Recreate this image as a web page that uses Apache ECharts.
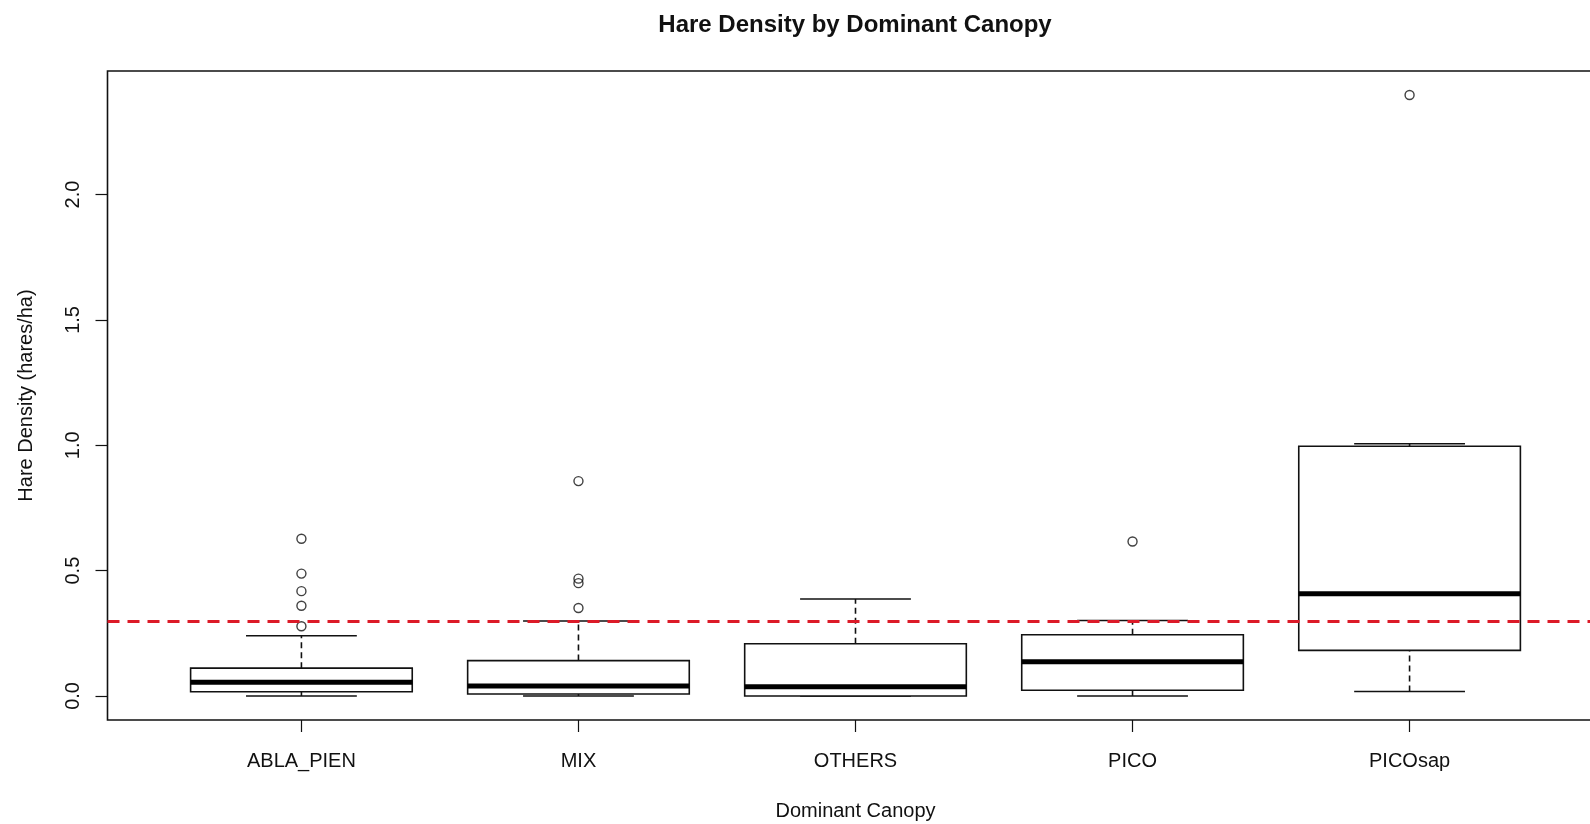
<!DOCTYPE html>
<html>
<head>
<meta charset="utf-8">
<title>Hare Density by Dominant Canopy</title>
<script src="https://cdn.jsdelivr.net/npm/echarts@6/dist/echarts.min.js"></script>
<style>
  html, body { margin: 0; padding: 0; background: #ffffff; overflow: hidden; }
  /* the plot frame runs slightly past the right edge of the window */
  #chart { width: 1604px; height: 824px; }
</style>
</head>
<body>
<div id="chart"></div>
<script>
// Five-number summaries per canopy class (hares/ha)
const categories   = ['ABLA_PIEN', 'MIX', 'OTHERS', 'PICO', 'PICOsap'];
const whiskerLow   = [0.000, 0.000, 0.000, 0.000, 0.018];
const quartile1    = [0.017, 0.008, 0.000, 0.023, 0.182];
const medians      = [0.055, 0.040, 0.037, 0.136, 0.408];
const quartile3    = [0.111, 0.141, 0.208, 0.244, 0.996];
const whiskerHigh  = [0.240, 0.299, 0.387, 0.301, 1.006];
const outliers     = [
  [0.627, 0.488, 0.418, 0.360, 0.278],
  [0.857, 0.468, 0.450, 0.351],
  [],
  [0.616],
  [2.397]
];
const threshold    = 0.3;
const yTicks       = [0, 0.5, 1.0, 1.5, 2.0];

// Base-style plotting conventions: groups sit at 1..n, range padded by 4%
const BOX_WIDTH = 0.8;
const CAP_WIDTH = 0.4;
const xMin = 1 - 0.5 - 0.04 * categories.length;
const xMax = categories.length + 0.5 + 0.04 * categories.length;
const allValues = whiskerLow.concat(whiskerHigh, [].concat(...outliers));
const dataMin = Math.min(...allValues);
const dataMax = Math.max(...allValues);
const pad = 0.04 * (dataMax - dataMin);

const boxData = categories.map((c, i) => [
  i + 1, whiskerLow[i], quartile1[i], medians[i], quartile3[i], whiskerHigh[i]
]);
const outlierData = [];
outliers.forEach((list, i) => list.forEach(v => outlierData.push([i + 1, v])));

const FONT = '"Liberation Sans", Arial, "DejaVu Sans", sans-serif';
const INK = '#111111';
const LW = 1.6;

function renderBox(params, api) {
  const x = api.value(0);
  const lo = api.coord([x, api.value(1)]);
  const b1 = api.coord([x, api.value(2)]);
  const md = api.coord([x, api.value(3)]);
  const b3 = api.coord([x, api.value(4)]);
  const hi = api.coord([x, api.value(5)]);
  const boxW = api.size([BOX_WIDTH, 0])[0];
  const capW = api.size([CAP_WIDTH, 0])[0];
  const cx = lo[0];
  const dashed = { stroke: INK, lineWidth: LW, lineDash: [6, 4], fill: null };
  const solid = { stroke: INK, lineWidth: LW, fill: null };
  return {
    type: 'group',
    children: [
      { type: 'line', shape: { x1: cx, y1: lo[1], x2: cx, y2: b1[1] }, style: dashed },
      { type: 'line', shape: { x1: cx, y1: b3[1], x2: cx, y2: hi[1] }, style: dashed },
      { type: 'line', shape: { x1: cx - capW / 2, y1: lo[1], x2: cx + capW / 2, y2: lo[1] }, style: solid },
      { type: 'line', shape: { x1: cx - capW / 2, y1: hi[1], x2: cx + capW / 2, y2: hi[1] }, style: solid },
      {
        type: 'rect',
        shape: { x: cx - boxW / 2, y: b3[1], width: boxW, height: b1[1] - b3[1] },
        style: { fill: '#ffffff', stroke: INK, lineWidth: LW }
      },
      {
        type: 'line',
        shape: { x1: cx - boxW / 2, y1: md[1], x2: cx + boxW / 2, y2: md[1] },
        style: { stroke: '#000000', lineWidth: 5 }
      }
    ]
  };
}

const chart = echarts.init(document.getElementById('chart'), null, { renderer: 'canvas' });
chart.setOption({
  backgroundColor: '#ffffff',
  animation: false,
  title: {
    text: 'Hare Density by Dominant Canopy',
    left: 855,
    top: 13,
    padding: 0,
    textAlign: 'center',
    textStyle: { fontFamily: FONT, fontSize: 24, fontWeight: 'bold', color: INK }
  },
  grid: {
    left: 107.5, right: 0.5, top: 71, bottom: 104,
    outerBoundsMode: 'none',
    containLabel: false,
    show: true, borderColor: INK, borderWidth: LW, backgroundColor: 'transparent'
  },
  xAxis: {
    type: 'value',
    min: xMin,
    max: xMax,
    splitLine: { show: false },
    axisLine: { show: false, onZero: false },
    axisTick: { show: true, inside: false, length: 12, customValues: categories.map((c, i) => i + 1),
      lineStyle: { color: INK, width: 1.2 } },
    axisLabel: {
      customValues: categories.map((c, i) => i + 1),
      formatter: v => categories[Math.round(v) - 1] || '',
      margin: 31,
      fontFamily: FONT, fontSize: 20, color: INK
    },
    name: 'Dominant Canopy',
    nameLocation: 'middle',
    nameGap: 81,
    nameTextStyle: { fontFamily: FONT, fontSize: 20, color: INK }
  },
  yAxis: {
    type: 'value',
    min: dataMin - pad,
    max: dataMax + pad,
    splitLine: { show: false },
    axisLine: { show: false, onZero: false },
    axisTick: { show: true, length: 12, customValues: yTicks, lineStyle: { color: INK, width: 1.2 } },
    axisLabel: {
      customValues: yTicks,
      formatter: v => v.toFixed(1),
      rotate: 90,
      margin: 24,
      fontFamily: FONT, fontSize: 20, color: INK
    },
    name: 'Hare Density (hares/ha)',
    nameLocation: 'middle',
    nameRotate: 90,
    nameGap: 71,
    nameTextStyle: { fontFamily: FONT, fontSize: 20, color: INK }
  },
  series: [
    {
      type: 'custom',
      name: 'boxes',
      data: boxData,
      encode: { x: 0, y: [1, 2, 3, 4, 5] },
      renderItem: renderBox,
      z: 2
    },
    {
      type: 'scatter',
      name: 'outliers',
      data: outlierData,
      symbol: 'circle',
      symbolSize: 9,
      itemStyle: { color: 'transparent', borderColor: INK, borderWidth: 1.4 },
      z: 3,
      markLine: {
        silent: true,
        symbol: 'none',
        label: { show: false },
        lineStyle: { color: '#dc1a28', width: 3, type: [12, 8] },
        data: [{ yAxis: threshold }],
        z: 4
      }
    }
  ]
});
</script>
</body>
</html>
